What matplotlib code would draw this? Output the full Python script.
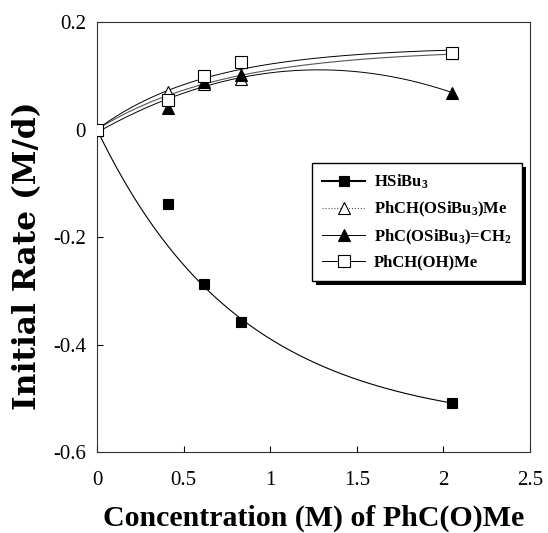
import numpy as np
import matplotlib
matplotlib.use("Agg")
import matplotlib.pyplot as plt
import matplotlib.patheffects as pe

plt.rcParams['font.family'] = ['Liberation Serif', 'DejaVu Serif']
plt.rcParams['mathtext.fontset'] = 'custom'
plt.rcParams['mathtext.rm'] = 'Liberation Serif:bold'
plt.rcParams['mathtext.bf'] = 'Liberation Serif:bold'
plt.rcParams['mathtext.it'] = 'Liberation Serif:bold'

conc = [0, 0.41, 0.62, 0.83, 2.05]
hsibu3 = [0, -0.138, -0.287, -0.358, -0.508]
ether = [0, 0.070, 0.085, 0.094, 0.142]
enol = [0, 0.040, 0.088, 0.101, 0.068]
alcohol = [0, 0.055, 0.100, 0.126, 0.143]

labels = [r'HSiBu$_\mathbf{3}$', r'PhCH(OSiBu$_\mathbf{3}$)Me',
          r'PhC(OSiBu$_\mathbf{3}$)=CH$_\mathbf{2}$', 'PhCH(OH)Me']

fig = plt.figure(figsize=(5.48, 5.33), dpi=100)
ax = fig.add_axes([97 / 548, 81 / 533, 433 / 548, 430 / 533])

xs = np.linspace(0, 2.05, 300)
xd = np.array(conc)


def sat_fit(y, use=None):
    # least-squares trendline y = a*(1-exp(-b x))
    y = np.array(y)
    m = np.ones(len(y), bool) if use is None else np.array(use)
    best = None
    for b in np.linspace(0.2, 8, 1000):
        f = 1 - np.exp(-b * xd[m])
        a = (f @ y[m]) / (f @ f)
        err = np.sum((a * f - y[m]) ** 2)
        if best is None or err < best[0]:
            best = (err, a, b)
    _, a, b = best
    return a * (1 - np.exp(-b * xs))


def poly_fit(y, deg=2):
    return np.polyval(np.polyfit(xd, y, deg), xs)


curves = [
    sat_fit(hsibu3, use=[True, False, True, True, True]),
    sat_fit(ether),
    poly_fit(enol),
    sat_fit(alcohol),
]

styles = [
    (hsibu3, dict(marker='s', mfc='black', mec='black', ms=7.5), dict(color='black', lw=0.8, ls='-')),
    (ether, dict(marker='^', mfc='white', mec='black', ms=8.5), dict(color='#555555', lw=0.8, ls='-')),
    (enol, dict(marker='^', mfc='black', mec='black', ms=8.5), dict(color='black', lw=0.7, ls='-')),
    (alcohol, dict(marker='s', mfc='white', mec='black', ms=8), dict(color='black', lw=0.7, ls='-')),
]

handles = []
for (y, mk, ln), cv, lab in zip(styles, curves, labels):
    ax.plot(xs, cv, zorder=2, **ln)
    ax.plot(conc, y, ls='none', zorder=3, mew=0.8, **mk)
    lw_leg = 1.5 if lab.startswith('HSi') else ln['lw']
    ls_leg = ':' if lab.startswith('PhCH(OSi') else ln['ls']
    h, = ax.plot([], [], color=ln['color'], lw=lw_leg, ls=ls_leg, mew=0.8, **mk)
    handles.append(h)

ax.set_xlim(0, 2.5)
ax.set_ylim(-0.6, 0.2)
ax.set_xticks([0, 0.5, 1, 1.5, 2, 2.5])
ax.set_xticklabels(['0', '0.5', '1', '1.5', '2', '2.5'])
ax.set_yticks([-0.6, -0.4, -0.2, 0, 0.2])
ax.set_yticklabels(['-0.6', '-0.4', '-0.2', '0', '0.2'])
ax.tick_params(direction='in', length=4, width=0.8, labelsize=15)
ax.tick_params(axis='y', pad=8)
ax.tick_params(axis='x', pad=14)
for s in ax.spines.values():
    s.set_linewidth(0.8)
    s.set_color('#333333')

ax.set_xlabel('Concentration (M) of PhC(O)Me', fontsize=21.5, fontweight='bold', labelpad=10)
ax.set_ylabel('Initial Rate (M/d)', fontsize=22.5, fontweight='bold', family='DejaVu Serif')
ax.yaxis.set_label_coords(-0.125, 0.456)

leg = ax.legend(handles, labels, loc='upper left', bbox_to_anchor=(0.4965, 0.672),
                borderaxespad=0,
                frameon=True, fancybox=False, shadow=False, edgecolor='black', framealpha=1.0,
                prop={'family': 'Liberation Serif', 'weight': 'bold', 'size': 12},
                handlelength=2.6, handletextpad=0.5, labelspacing=0.5, borderpad=0.6)
leg.get_frame().set_linewidth(1.0)
leg.get_frame().set_path_effects([pe.SimplePatchShadow(offset=(3, -3), shadow_rgbFace='black', alpha=1.0), pe.Normal()])

fig.savefig('out.png', dpi=100)
